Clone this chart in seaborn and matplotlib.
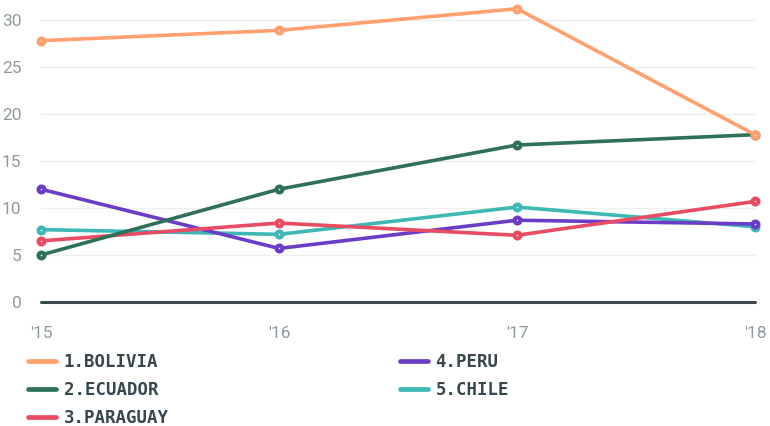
import matplotlib
matplotlib.use("Agg")
import matplotlib.pyplot as plt
from matplotlib.lines import Line2D
import seaborn as sns
import pandas as pd

years = ["'15", "'16", "'17", "'18"]
countries = ["1.BOLIVIA", "2.ECUADOR", "3.PARAGUAY", "4.PERU", "5.CHILE"]
bolivia = [27.8, 28.9, 31.2, 17.8]
ecuador = [5.0, 12.0, 16.7, 17.8]
paraguay = [6.5, 8.4, 7.1, 10.7]
peru = [12.0, 5.7, 8.7, 8.3]
chile = [7.7, 7.2, 10.1, 8.0]
colors = ["#FFA06E", "#2E7158", "#E94B63", "#6B3CC5", "#3DB8B5"]
yticks = [0, 5, 10, 15, 20, 25, 30]

series = [bolivia, ecuador, paraguay, peru, chile]
palette = dict(zip(countries, colors))

sns.set_style("white")
fig = plt.figure(figsize=(7.7, 4.26), dpi=100)
ax = fig.add_axes([41 / 770, 1 - 302 / 426, (755 - 41) / 770, (302 - 1.2) / 426])

ax.set_ylim(0, 32)
ax.set_xlim(0, 3)
for t in yticks[1:]:
    ax.axhline(t, color="#EEEEEE", lw=1.0, zorder=0)
ax.axhline(0, color="#37474F", lw=2.2, zorder=1, clip_on=False)

# draw in reverse so earlier series sit on top
for k in range(len(countries) - 1, -1, -1):
    name, vals = countries[k], series[k]
    d = pd.DataFrame({"year": list(range(len(vals))), "value": vals})
    sns.lineplot(data=d, x="year", y="value", color=palette[name],
                 lw=2.6, marker="o", markersize=4.2,
                 markerfacecolor="#FFFFFF", markeredgecolor=palette[name],
                 markeredgewidth=3.0, ax=ax, legend=False,
                 zorder=3 + (len(countries) - k), clip_on=False)
for line in ax.get_lines():
    line.set_clip_on(False)

for s in ax.spines.values():
    s.set_visible(False)
ax.set_xticks(range(len(years)))
ax.set_xticklabels(years)
ax.set_yticks(yticks)
ax.set_xlabel("")
ax.set_ylabel("")
ax.tick_params(axis="both", length=0, colors="#8F9AA0", labelsize=12.5)
ax.tick_params(axis="x", pad=17)
ax.tick_params(axis="y", pad=14)
for lab in ax.get_xticklabels() + ax.get_yticklabels():
    lab.set_fontfamily("Roboto")

def make_legend(names, cols, x, y):
    handles = [Line2D([0], [0], color=c, lw=3.4) for c in cols]
    leg = fig.legend(handles, names, loc="upper left",
                     bbox_to_anchor=(x / 770, 1 - y / 426), frameon=False,
                     borderpad=0, borderaxespad=0, handlelength=1.6,
                     handletextpad=0.45, labelspacing=0.58,
                     prop={"family": "DejaVu Sans Mono", "weight": "bold", "size": 12.5})
    for t in leg.get_texts():
        t.set_color("#37474F")
    return leg

make_legend(countries[:3], colors[:3], 28, 353)
make_legend(countries[3:], colors[3:], 400, 353)

fig.savefig("out.png", dpi=100)
